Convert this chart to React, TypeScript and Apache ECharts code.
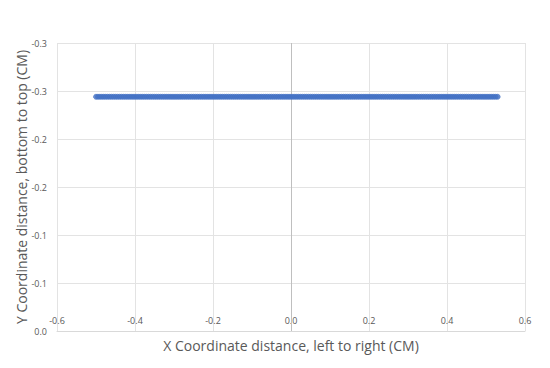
import React, { useEffect, useRef } from "react";
import * as echarts from "echarts";

const xValues = [
  -0.5, -0.495, -0.49, -0.485, -0.48, -0.475, -0.47, -0.465, -0.46, -0.455,
  -0.45, -0.445, -0.44, -0.435, -0.43, -0.425, -0.42, -0.415, -0.41, -0.405,
  -0.4, -0.395, -0.39, -0.385, -0.38, -0.375, -0.37, -0.365, -0.36, -0.355,
  -0.35, -0.345, -0.34, -0.335, -0.33, -0.325, -0.32, -0.315, -0.31, -0.305,
  -0.3, -0.295, -0.29, -0.285, -0.28, -0.275, -0.27, -0.265, -0.26, -0.255,
  -0.25, -0.245, -0.24, -0.235, -0.23, -0.225, -0.22, -0.215, -0.21, -0.205,
  -0.2, -0.195, -0.19, -0.185, -0.18, -0.175, -0.17, -0.165, -0.16, -0.155,
  -0.15, -0.145, -0.14, -0.135, -0.13, -0.125, -0.12, -0.115, -0.11, -0.105,
  -0.1, -0.095, -0.09, -0.085, -0.08, -0.075, -0.07, -0.065, -0.06, -0.055,
  -0.05, -0.045, -0.04, -0.035, -0.03, -0.025, -0.02, -0.015, -0.01, -0.005,
  0.0, 0.005, 0.01, 0.015, 0.02, 0.025, 0.03, 0.035, 0.04, 0.045,
  0.05, 0.055, 0.06, 0.065, 0.07, 0.075, 0.08, 0.085, 0.09, 0.095,
  0.1, 0.105, 0.11, 0.115, 0.12, 0.125, 0.13, 0.135, 0.14, 0.145,
  0.15, 0.155, 0.16, 0.165, 0.17, 0.175, 0.18, 0.185, 0.19, 0.195,
  0.2, 0.205, 0.21, 0.215, 0.22, 0.225, 0.23, 0.235, 0.24, 0.245,
  0.25, 0.255, 0.26, 0.265, 0.27, 0.275, 0.28, 0.285, 0.29, 0.295,
  0.3, 0.305, 0.31, 0.315, 0.32, 0.325, 0.33, 0.335, 0.34, 0.345,
  0.35, 0.355, 0.36, 0.365, 0.37, 0.375, 0.38, 0.385, 0.39, 0.395,
  0.4, 0.405, 0.41, 0.415, 0.42, 0.425, 0.43, 0.435, 0.44, 0.445,
  0.45, 0.455, 0.46, 0.465, 0.47, 0.475, 0.48, 0.485, 0.49, 0.495,
  0.5, 0.505, 0.51, 0.515, 0.52, 0.525, 0.53
];
const yLevel = -0.244;
const xTitle = "X Coordinate distance, left to right (CM)";
const yTitle = "Y Coordinate distance, bottom to top (CM)";

function fmtY(v: number): string {
  const a = Math.round(Math.abs(v) * 10 + 1e-9) / 10;
  if (a === 0) return "0.0";
  return (v < 0 ? "-" : "") + a.toFixed(1);
}
function fmtX(v: number): string {
  const a = Math.abs(v);
  if (a < 1e-9) return "0.0";
  return (v < 0 ? "-" : "") + a.toFixed(1);
}

const FONT = "Open Sans, Liberation Sans, sans-serif";

export default function App() {
  const ref = useRef<HTMLDivElement>(null);
  useEffect(() => {
    if (!ref.current) return;
    const chart = echarts.init(ref.current, undefined, { renderer: "svg" });
    const data = xValues.map((x) => [x, yLevel]);
    chart.setOption({
      animation: false,
      textStyle: { fontFamily: FONT },
      graphic: [
        {
          type: "rect",
          shape: { x: 0.5, y: 0.5, width: 547, height: 365 },
          style: { fill: "#fff", stroke: "#d9d9d9", lineWidth: 1 },
          z: -10,
          silent: true,
        },
        {
          type: "text",
          x: 21,
          y: 187,
          rotation: Math.PI / 2,
          style: {
            text: yTitle,
            fill: "#595959",
            fontSize: 14,
            align: "center",
            verticalAlign: "middle",
            fontFamily: FONT,
          },
        },
        {
          type: "text",
          x: 291,
          y: 345,
          style: {
            text: xTitle,
            fill: "#595959",
            fontSize: 14,
            align: "center",
            verticalAlign: "middle",
            fontFamily: FONT,
          },
        },
      ],
      grid: { left: 57, right: 25, top: 43, bottom: 37 },
      xAxis: {
        type: "value",
        min: -0.6,
        max: 0.6,
        interval: 0.2,
        axisLine: { show: true, onZero: false, lineStyle: { color: "#d9d9d9" } },
        axisTick: { show: false },
        axisLabel: {
          inside: true,
          margin: 6,
          color: "#595959",
          fontSize: 9,
          formatter: fmtX,
        },
        splitLine: { show: true, lineStyle: { color: "#e3e3e3" } },
      },
      yAxis: {
        type: "value",
        inverse: true,
        min: -0.3,
        max: 0,
        interval: 0.05,
        axisLine: { show: false },
        axisTick: { show: false },
        axisLabel: { color: "#595959", fontSize: 9, margin: 10, formatter: fmtY },
        splitLine: { show: true, lineStyle: { color: "#e3e3e3" } },
      },
      series: [
        {
          type: "scatter",
          data,
          symbol: "circle",
          symbolSize: 5,
          itemStyle: { color: "#4472c4", borderColor: "#4472c4", borderWidth: 0.75 },
          markLine: {
            silent: true,
            symbol: "none",
            label: { show: false },
            lineStyle: { color: "#bfbfbf", type: "solid", width: 1 },
            data: [{ xAxis: 0 }],
            z: 1,
          },
          z: 3,
        },
      ],
    });
    return () => chart.dispose();
  }, []);
  return <div ref={ref} style={{ width: 550, height: 368, margin: -8 }} />;
}
